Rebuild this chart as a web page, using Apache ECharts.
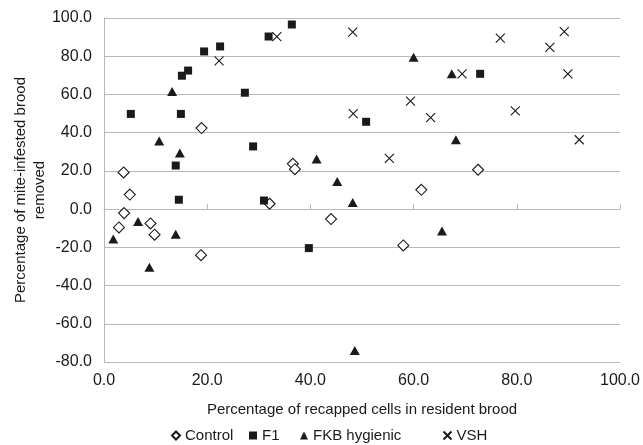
<!DOCTYPE html>
<html>
<head>
<meta charset="utf-8">
<script src="https://cdn.jsdelivr.net/npm/echarts@6/dist/echarts.min.js"></script>
<style>
  html, body { margin: 0; padding: 0; background: #fff; }
  #chart { width: 643px; height: 445px; }
</style>
</head>
<body>
<div id="chart"></div>
<script>
// data: [recapped %, removed %]
const control = [
  [3.8, 19.2], [5.0, 7.6], [3.9, -2.1], [2.9, -9.6], [9.0, -7.5], [9.8, -13.4],
  [18.9, 42.4], [18.8, -24.1], [32.1, 2.8], [36.6, 23.7], [37.0, 20.9],
  [44.0, -5.2], [58.0, -19.0], [61.5, 10.1], [72.5, 20.6]
];
const f1 = [
  [31.9, 90.3], [36.4, 96.6], [22.5, 85.1], [19.4, 82.5], [16.3, 72.5], [15.1, 69.8],
  [27.3, 60.9], [5.2, 49.8], [14.9, 49.8], [28.9, 32.8], [13.9, 22.8], [14.5, 4.9],
  [31.0, 4.5], [39.7, -20.4], [50.8, 45.7], [72.9, 70.8]
];
const fkb = [
  [13.2, 61.6], [10.7, 35.7], [14.7, 29.3], [6.6, -6.5], [13.9, -13.1], [1.8, -15.7],
  [8.8, -30.4], [60.0, 79.5], [67.4, 70.8], [68.2, 36.3], [41.2, 26.2], [45.2, 14.4],
  [48.2, 3.5], [65.5, -11.4], [48.6, -74.0]
];
const vsh = [
  [22.3, 77.6], [33.5, 90.3], [48.2, 92.6], [69.4, 70.8], [59.4, 56.5], [48.3, 50.0],
  [63.3, 47.9], [55.3, 26.5], [76.8, 89.5], [89.2, 92.9], [86.4, 84.6], [89.9, 70.8],
  [79.7, 51.4], [92.1, 36.3]
];
const seriesNames = ['Control', 'F1', 'FKB hygienic', 'VSH'];

const chart = echarts.init(document.getElementById('chart'));
const font = 'Liberation Sans, Arial, sans-serif';
const cross = 'path://M0,0L10,10M10,0L0,10';
const ink = '#1a1a1a';

// one legend per entry so the uneven spacing of the original can be kept
const legendLeft = [171, 249, 300, 441];
const legends = seriesNames.map((n, i) => ({
  data: [n],
  left: legendLeft[i],
  top: 428,
  padding: 0,
  itemWidth: 8,
  itemHeight: 8,
  textStyle: { fontSize: 15, color: ink, fontFamily: font }
}));

const option = {
  backgroundColor: '#fff',
  animation: false,
  textStyle: { fontFamily: font },
  grid: { left: 104, right: 23, top: 18, bottom: 83, outerBoundsMode: 'none', containLabel: false },
  legend: legends,
  xAxis: {
    type: 'value',
    min: 0, max: 100, interval: 20,
    name: 'Percentage of recapped cells in resident brood',
    nameLocation: 'middle',
    nameGap: 40,
    nameMoveOverlap: false,
    nameTextStyle: { fontSize: 15, color: ink, fontFamily: font },
    axisLine: { show: true, lineStyle: { color: '#b8b8b8', width: 1 } },
    axisTick: { show: true, inside: true, length: 5, lineStyle: { color: '#b8b8b8' } },
    axisLabel: { fontSize: 16, color: ink, margin: 11, formatter: v => v.toFixed(1) },
    splitLine: { show: false }
  },
  yAxis: {
    type: 'value',
    min: -80, max: 100, interval: 20,
    name: 'Percentage of mite-infested brood\nremoved',
    nameLocation: 'middle',
    nameGap: 55,
    nameMoveOverlap: false,
    nameRotate: 90,
    nameTextStyle: { fontSize: 15, color: ink, fontFamily: font, lineHeight: 19 },
    axisLine: { show: true, lineStyle: { color: '#b8b8b8', width: 1 } },
    axisTick: { show: false },
    axisLabel: { fontSize: 16, color: ink, margin: 12, formatter: v => v.toFixed(1) },
    splitLine: { show: true, lineStyle: { color: '#b8b8b8', width: 1 } }
  },
  series: [
    {
      name: 'Control', type: 'scatter', data: control,
      symbol: 'diamond', symbolSize: 11,
      itemStyle: { color: '#fff', borderColor: ink, borderWidth: 1.1, opacity: 1 }
    },
    {
      name: 'F1', type: 'scatter', data: f1,
      symbol: 'rect', symbolSize: 8,
      itemStyle: { color: ink, opacity: 1 }
    },
    {
      name: 'FKB hygienic', type: 'scatter', data: fkb,
      symbol: 'triangle', symbolSize: [10, 9],
      itemStyle: { color: ink, opacity: 1 }
    },
    {
      name: 'VSH', type: 'scatter', data: vsh,
      symbol: cross, symbolSize: 9,
      itemStyle: { color: 'none', borderColor: ink, borderWidth: 1.1, opacity: 1 }
    }
  ]
};

chart.setOption(option);
</script>
</body>
</html>
